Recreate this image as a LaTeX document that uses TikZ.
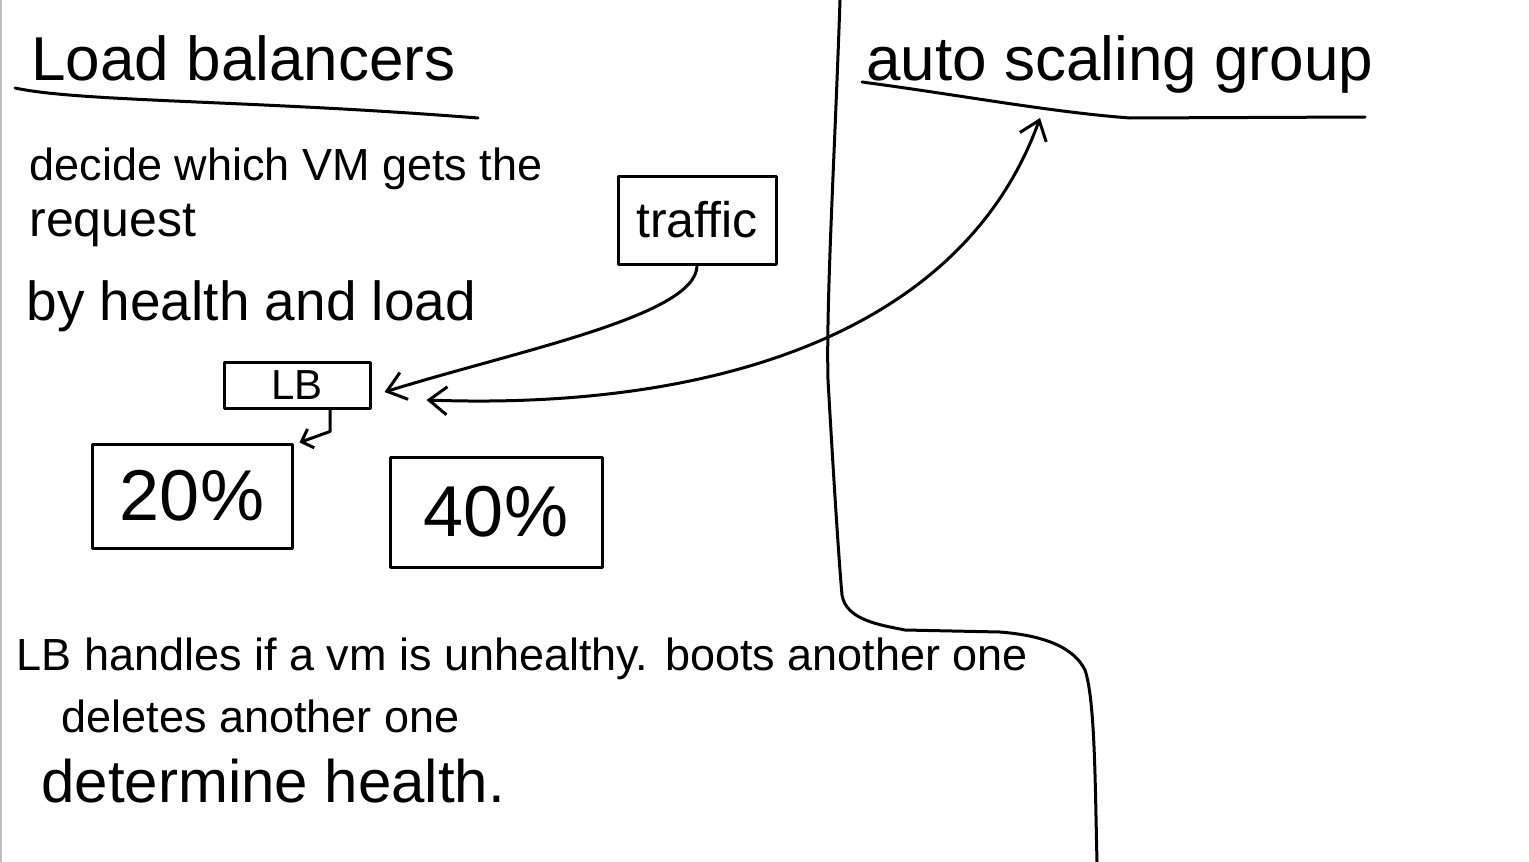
\documentclass[tikz,border=0pt]{standalone}
\usepackage{fontspec}
\setmainfont{Liberation Sans}
\usetikzlibrary{arrows.meta}

\begin{document}
\begin{tikzpicture}[x=1pt,y=-1pt,line width=3pt,line cap=round,line join=round,
    note/.style={anchor=base west,inner sep=0pt},
    box/.style={draw,inner sep=0pt},
    bigtip/.tip={Straight Barb[length=18pt,width=28pt]},
    smalltip/.tip={Straight Barb[length=10pt,width=20pt]}]
  \useasboundingbox (0,0) rectangle (1529,862);
  \draw[gray!50,line width=1.5pt] (1,0) -- (1,862);

  % left half: load balancers
  \node[note,font=\fontsize{62}{72}\selectfont] (title) at (30,80) {Load balancers};
  \draw (15,88) .. controls (80,102) and (250,100) .. (478,118);
  \node[note,font=\fontsize{45}{54}\selectfont] (decide) at (28,180) {decide which VM gets the};
  \node[note,font=\fontsize{50}{60}\selectfont] (request) at (28,236) {request};
  \node[note,font=\fontsize{55}{66}\selectfont] (by) at (25,320) {by health and load};

  \node[box,minimum width=158pt,minimum height=88pt,font=\fontsize{50}{60}\selectfont] (traffic) at (697,220) {traffic};
  \node[box,minimum width=146pt,minimum height=46pt,font=\fontsize{42}{50}\selectfont] (lb) at (297,385) {LB};
  \node[box,minimum width=200pt,minimum height=104pt,font=\fontsize{72}{84}\selectfont] (p20) at (192,496) {20\%};
  \node[box,minimum width=212pt,minimum height=110pt,font=\fontsize{72}{84}\selectfont] (p40) at (496,512) {40\%};

  \node[note,font=\fontsize{45}{54}\selectfont] (handles) at (15,670) {LB handles if a vm is unhealthy. boots another one};
  \node[note,font=\fontsize{45}{54}\selectfont] (deletes) at (60,732) {deletes another one};
  \node[note,font=\fontsize{60}{72}\selectfont] (determine) at (40,802) {determine health.};

  % divider
  \draw (840,0) .. controls (835,150) and (826,300) .. (828,380)
    .. controls (832,450) and (838,550) .. (842,595)
    .. controls (846,620) and (880,625) .. (905,630) -- (1000,632)
    .. controls (1050,636) and (1075,650) .. (1085,670)
    .. controls (1095,700) and (1095,780) .. (1097,862);

  % right half: auto scaling group
  \node[note,font=\fontsize{62}{74}\selectfont] (asg) at (865,80) {auto scaling group};
  \draw (862,82) .. controls (960,95) and (1050,112) .. (1130,118) -- (1365,117);
  \coordinate (asgline) at (1040,118);

  % arrows
  \draw[-bigtip] (traffic.south) .. controls ++(0,50) and (520,350) .. ([xshift=13pt,yshift=-7pt]lb.east);
  \draw[bigtip-bigtip] ([shift={(55,15)}]lb.east) .. controls (700,410) and (960,340) .. (asgline);
  \draw[-smalltip] ([xshift=33pt]lb.south) -- ++(0,22) -- ([xshift=6pt]p20.north east);
\end{tikzpicture}
\end{document}
